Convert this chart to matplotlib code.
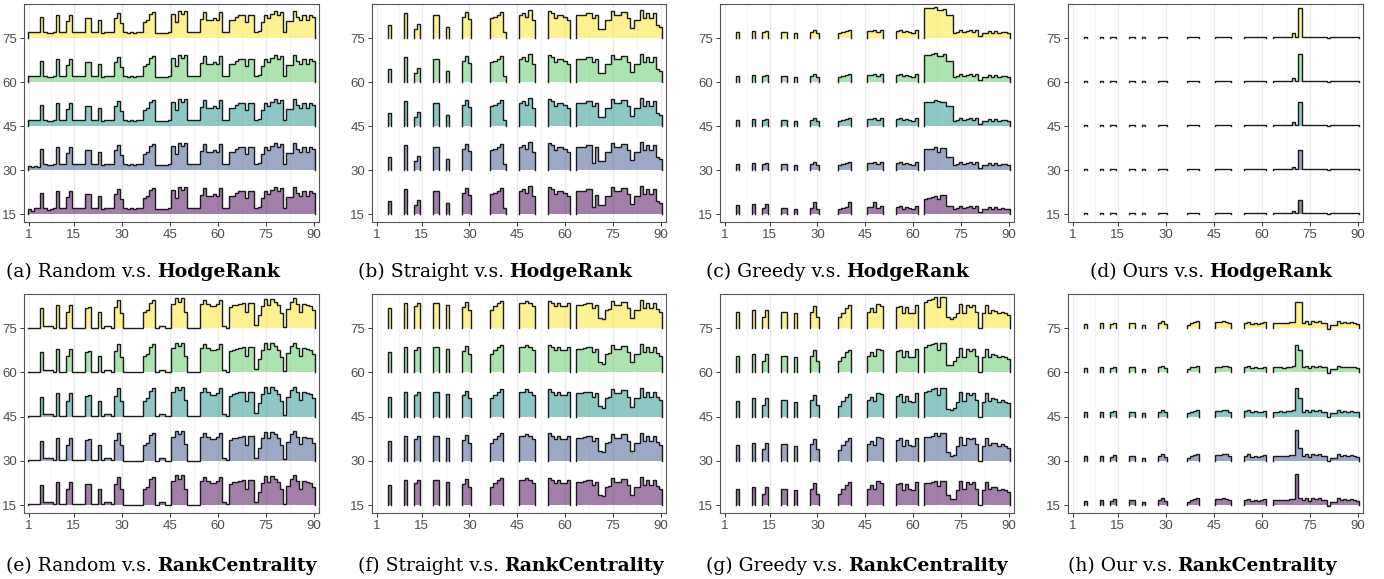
import numpy as np
import matplotlib.pyplot as plt

N = None  # no observation at that position
x = np.arange(1, 91)
offsets = [15, 30, 45, 60, 75]
colors = ["#440154", "#3B528B", "#21908C", "#5DC863", "#FDE725"]
x_ticks = [1, 15, 30, 45, 60, 75, 90]
x_minor = [8, 22.5, 37.5, 52.5, 67.5, 82.5]

# heights above each ridge baseline, positions 1..90 (ten per row)
random_hodge = [
    2, 2, 2, 2, 7.1, 2, 1.7, 1.7, 2, 8,
    2, 2, 5.9, 7.9, 2, 2, 2, 2, 6.8, 6.8,
    2, 2, 6, 1.7, 2, 2, 2, 6.8, 8.5, 5,
    2, 1.6, 2, 1.6, 2, 2, 5.6, 6.2, 8.1, 8.8,
    1.8, 1.6, 1.6, 1.8, 2, 8.3, 5.6, 9.3, 8.3, 9.3,
    2, 2, 2, 2, 6.5, 9, 6.2, 6.2, 6.8, 6.2,
    8.8, 2, 2, 6.2, 6.2, 7.3, 7.8, 7.8, 5.6, 7.8,
    7.8, 2, 2.5, 5.6, 7.8, 6.8, 8.3, 9.3, 7.8, 8.8,
    2, 5.8, 5.8, 9.3, 7.3, 6, 8, 6, 7.8, 7.2,
]
straight_hodge = [
    N, N, N, N, 4.5, N, N, N, N, 8.5,
    N, N, 3, 4.8, N, N, N, N, 7.7, 7.7,
    N, N, 3.7, N, N, N, N, 7.3, 9, 6.4,
    N, N, N, N, N, N, 6.8, 7.3, 7.9, 9,
    2, N, N, N, N, 7.9, 8.5, 7.3, 9.4, 6,
    N, N, N, N, 9.2, 8.5, 6.8, 7.9, 7.9, 7.1,
    6.2, N, N, 7.9, 7.9, 7.9, 8.5, 8.5, 6.8, 7.9,
    3, 3, 6.2, 6.2, 9.2, 7.9, 7.9, 9, 9, 6.8,
    3.4, 6.2, 6.2, 9.6, 6.8, 8.5, 6.8, 8.5, 4.5, 3.7,
]
greedy_hodge = [
    N, N, N, N, 2, N, N, N, N, 2.5,
    N, N, 2, 2.5, N, N, N, N, 2, 2,
    N, N, 1.8, N, N, N, N, 2, 2.8, 1.7,
    N, N, N, N, N, N, 1.7, 2, 2.5, 2.8,
    N, N, N, N, N, 2.5, 2.5, 2.8, 2, 2.8,
    N, N, N, N, 2.5, 2.8, 1.9, 2.3, 2, 1.8,
    2.6, N, N, 10.1, 10.1, 10.4, 10.5, 9.6, 9.6, 9.9,
    7.9, 7.9, 1.7, 2, 2.8, 2, 2.5, 2.8, 2, 2.6,
    0.6, 1.7, 1.7, 2.5, 1.7, 2.3, 1.7, 2, 1.9, 1.7,
]
ours_hodge = [
    N, N, N, N, 0.3, N, N, N, N, 0.3,
    N, N, 0.3, 0.5, N, N, N, N, 0.3, 0.3,
    N, N, 0.3, N, N, N, N, 0.3, 0.5, 0.3,
    N, N, N, N, N, N, 0.2, 0.3, 0.4, 0.4,
    N, N, N, N, N, 0.3, 0.4, 0.5, 0.4, 0.3,
    N, N, N, N, 0.3, 0.4, 0.3, 0.4, 0.3, 0.4,
    0.3, N, N, 0.2, 0.3, 0.3, 0.3, 0.4, 0.3, 1.7,
    0.2, 10.1, 0.4, 0.3, 0.4, 0.3, 0.4, 0.3, 0.3, 0.3,
    0.0, 0.2, 0.3, 0.5, 0.3, 0.4, 0.3, 0.3, 0.3, 0.2,
]
random_rank = [
    0.2, 0.2, 0.2, 0.2, 6.8, 0.9, 0.9, 0.9, 0.2, 7.9,
    0.2, 0.2, 5.4, 7.9, 0.2, 0.2, 0.2, 0.2, 7, 7.3,
    0.2, 0.2, 5.4, 0.2, 0.9, 0.9, 0.2, 7.1, 9.6, 5.3,
    0.1, 0.1, 0.1, 0.1, 0.1, 0.1, 5.4, 6.2, 8.7, 9.6,
    0.1, 0.9, 0.9, 0.1, 0.1, 8.2, 10.1, 9, 10.1, 5.6,
    0.1, 0.1, 0.1, 0.1, 8.2, 9.6, 8.2, 7.5, 7.5, 8.1,
    9.6, 0.9, 0.2, 7.1, 7.7, 7.9, 8.2, 8.5, 5.4, 8.5,
    8.5, 1.1, 4.5, 7.6, 9.9, 7.9, 9.9, 9, 7.7, 5.3,
    0.5, 6.5, 9, 10.1, 8.2, 5.6, 8.2, 7.9, 7.6, 6.2,
]
straight_rank = [
    N, N, N, N, 6.8, N, N, N, N, 8.5,
    N, N, 7.5, 8.5, N, N, N, N, 8.5, 8.5,
    N, N, 7.8, N, N, N, N, 7.2, 8.8, 6.2,
    N, N, N, N, N, N, 6.2, 7.5, 8.5, 9.3,
    N, N, N, N, N, 8.5, 8.5, 9.2, 8.5, 7.5,
    N, N, N, N, 9.3, 8.5, 7.5, 8.5, 7.5, 7.5,
    8.5, N, N, 7.9, 7.9, 8.2, 8.5, 8.5, 6.8, 7.9,
    3.5, 3, 6.2, 6.5, 9.2, 7.9, 7.9, 9, 9, 6.8,
    3.4, 6.2, 6.2, 9.6, 6.8, 8.5, 6.8, 8.5, 6.5, 5.5,
]
greedy_rank = [
    N, N, N, N, 5.4, N, N, N, N, 6.2,
    N, N, 3.9, 6.2, N, N, N, N, 5.6, 5.6,
    N, N, 5.1, N, N, N, N, 5.6, 7.5, 3.9,
    N, N, N, N, N, N, 3.7, 5.3, 6.8, 7.7,
    N, N, N, N, N, 5.6, 6.8, 5.4, 8.1, 7.6,
    N, N, N, N, 7.1, 7.6, 5.1, 7.1, 5.3, 5.1,
    7.9, N, N, 9, 9.6, 9.9, 10.5, 7.3, 10.5, 10.5,
    3.9, 3, 3.7, 5.1, 8.2, 5.3, 7.9, 7.3, 7.9, 5.6,
    0, 5.1, 7.9, 5.3, 6.2, 6, 5.1, 5.6, 5.1, 4.5,
]
ours_rank = [
    N, N, N, N, 1.5, N, N, N, N, 1.7,
    N, N, 1.4, 1.9, N, N, N, N, 1.7, 1.7,
    N, N, 1.1, N, N, N, N, 1.7, 2.3, 1.4,
    N, N, N, N, N, N, 1.1, 1.7, 2, 2.3,
    N, N, N, N, N, 2, 2, 2.3, 2.2, 1.7,
    N, N, N, N, 1.8, 2.2, 1.4, 1.8, 1.4, 1.6,
    2, N, N, 1.7, 1.7, 1.8, 1.6, 1.8, 2, 2.1,
    9, 8.8, 1.7, 2.3, 1.4, 2.3, 2, 2.3, 1.7, 1.7,
    -0.2, 1.1, 1.1, 2.3, 1.7, 2, 1.7, 2, 1.7, 1.4,
]

# per-ridge departures from the panel profile: ridge index (0 = bottom) -> {position: height}
random_hodge_diff = {0: {1: 1.8, 2: 1.2, 7: 1.4}, 1: {1: 1.5, 2: 1.0, 3: 1.5, 4: 1.0}}
straight_hodge_diff = {0: {69: 2.3, 70: 6.5}, 1: {69: 2.5}}
greedy_hodge_diff = {
    3: {64: 9.2, 65: 9.2, 66: 9.6, 67: 9.8, 68: 9.0, 69: 9.0, 70: 9.4, 71: 7.1, 72: 7.1},
    2: {64: 8.1, 65: 8.1, 66: 8.3, 67: 9.0, 68: 8.6, 69: 8.1, 70: 8.3, 71: 6.8, 72: 6.8},
    1: {64: 7.1, 65: 7.1, 66: 7.3, 67: 7.9, 68: 6.0, 69: 7.5, 70: 7.5, 71: 4.3, 72: 4.3},
    0: {64: 5.3, 65: 5.5, 66: 5.9, 67: 6.2, 68: 5.0, 69: 6.5, 70: 6.5, 71: 2.8, 72: 2.8,
        5: 3.2, 10: 3.4, 14: 3.4, 29: 4.0, 40: 4.0, 48: 4.0},
}
ours_hodge_diff = {3: {70: 1.5, 72: 9.6}, 2: {70: 1.4, 72: 8.2},
                   1: {70: 1.2, 72: 6.8}, 0: {70: 1.1, 72: 4.7}}
random_rank_diff = {}
straight_rank_diff = {}
greedy_rank_diff = {
    3: {64: 8.7, 65: 9.2, 66: 9.7, 67: 10.1, 68: 7.7, 69: 10.1, 70: 10.1, 71: 2.6, 72: 2.6},
    2: {64: 8.5, 65: 8.8, 66: 9.3, 67: 9.6, 68: 7.3, 69: 9.6, 70: 9.6, 71: 2.5, 72: 2.3, 73: 3},
    1: {64: 8.2, 65: 8.2, 66: 8.5, 67: 9.3, 68: 8.5, 69: 9.4, 70: 9.4, 71: 3, 72: 1.5, 73: 2},
    0: {64: 7.4, 65: 7.6, 66: 7.9, 67: 8.3, 68: 6.5, 69: 8.3, 70: 8.3, 71: 3.5, 72: 2, 73: 2},
}
ours_rank_diff = {3: {71: 9.4, 72: 7.7}, 2: {71: 9.6, 72: 6.2},
                  1: {71: 10.3, 72: 4.3}, 0: {71: 10.7, 72: 2.3}}

captions = [
    ("(a) Random v.s.", "HodgeRank"), ("(b) Straight v.s.", "HodgeRank"),
    ("(c) Greedy v.s.", "HodgeRank"), ("(d) Ours v.s.", "HodgeRank"),
    ("(e) Random v.s.", "RankCentrality"), ("(f) Straight v.s.", "RankCentrality"),
    ("(g) Greedy v.s.", "RankCentrality"), ("(h) Our v.s.", "RankCentrality"),
]
profiles = [random_hodge, straight_hodge, greedy_hodge, ours_hodge,
            random_rank, straight_rank, greedy_rank, ours_rank]
diffs = [random_hodge_diff, straight_hodge_diff, greedy_hodge_diff, ours_hodge_diff,
         random_rank_diff, straight_rank_diff, greedy_rank_diff, ours_rank_diff]

W, H = 1384, 579
fig = plt.figure(figsize=(W / 100, H / 100), dpi=100)
plt.rcParams['font.family'] = 'Liberation Sans'

col_left = [24, 372, 720, 1068]
col_right = [319, 666, 1014, 1363]
row_top = [4, 294]
row_bottom = [222, 513]
cap_left = [6, 358, 706, 1090, 6, 358, 706, 1068]
cap_base = [277, 571]


def draw_ridges(ax, profile, diff):
    for k in range(len(offsets) - 1, -1, -1):
        off = offsets[k]
        v = np.array(profile, dtype=float)
        for pos, val in diff.get(k, {}).items():
            v[pos - 1] = val
        idx = np.flatnonzero(~np.isnan(v))
        runs = np.split(idx, np.flatnonzero(np.diff(idx) > 1) + 1)
        for r in runs:
            xs = np.repeat(x[r], 2) + np.tile([-0.5, 0.5], len(r))
            ys = np.repeat(v[r], 2) + off
            ax.fill_between(xs, off, ys, color=colors[k], alpha=0.5, lw=0, zorder=2)
            ax.plot(np.r_[xs[0], xs, xs[-1]], np.r_[off, ys, off],
                    color='#1a1a1a', lw=1.0, zorder=3, solid_joinstyle='miter')


for i in range(8):
    r, c = divmod(i, 4)
    l, rr = col_left[c], col_right[c]
    t, b = row_top[r], row_bottom[r]
    ax = fig.add_axes([l / W, 1 - b / H, (rr - l) / W, (b - t) / H])
    draw_ridges(ax, profiles[i], diffs[i])
    ax.set_xlim(-0.6, 91.7)
    ax.set_ylim(12.3, 86.6)
    ax.set_xticks(x_ticks)
    ax.set_xticks(x_minor, minor=True)
    ax.set_yticks(offsets)
    ax.grid(axis='x', which='major', color='#EBEBEB', lw=1.0, zorder=0)
    ax.grid(axis='x', which='minor', color='#F2F2F2', lw=0.6, zorder=0)
    ax.tick_params(which='minor', length=0)
    ax.tick_params(which='major', length=3, width=0.7, color='#333333',
                   labelcolor='#4D4D4D', labelsize=9.5, pad=2)
    for s in ax.spines.values():
        s.set_color('#555555')
        s.set_linewidth(0.8)
    ax.set_axisbelow(True)

    plain, bold = captions[i]
    yb = 1 - cap_base[r] / H
    t1 = fig.text(cap_left[i] / W, yb, plain, family='DejaVu Serif',
                  fontsize=13.5, va='baseline', ha='left')
    renderer = fig.canvas.get_renderer()
    bb = t1.get_window_extent(renderer)
    fig.text((bb.x1 + 5) / W, yb, bold, family='DejaVu Serif',
             fontsize=13.5, fontweight='bold', va='baseline', ha='left')

fig.savefig('out.png', dpi=100)
